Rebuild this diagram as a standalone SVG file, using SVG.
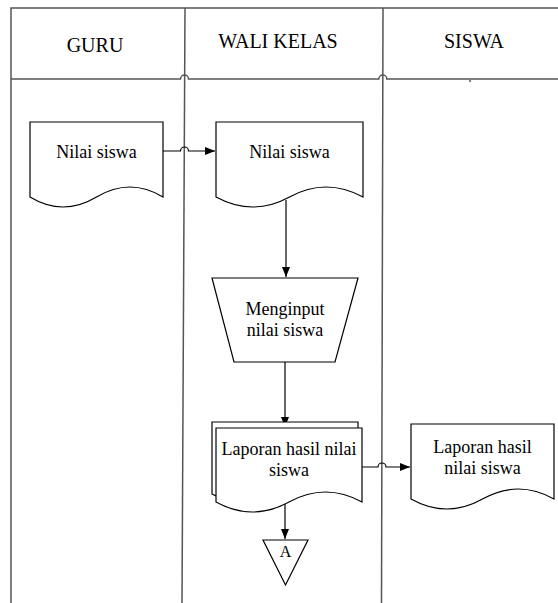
<svg xmlns="http://www.w3.org/2000/svg" width="558" height="603" viewBox="0 0 558 603">
<defs>
<marker id="ah" markerWidth="10" markerHeight="8" refX="10" refY="4" orient="auto" markerUnits="userSpaceOnUse">
<path d="M0,0 L10,4 L0,8 Z" fill="#000"/>
</marker>
</defs>
<style>
.t{font-family:"Liberation Serif","Times New Roman",serif;fill:#000;text-anchor:middle}
.h{font-size:20px}
.b{font-size:18px}
.s{fill:#fff;stroke:#000;stroke-width:1.2}
.ln{fill:none;stroke:#000;stroke-width:1.2}
.lane{fill:none;stroke:#555;stroke-width:1.5}
</style>
<rect width="558" height="603" fill="#fff"/>
<g id="lanes">
<path class="lane" d="M11,603 V8 H558"/>
<path class="lane" d="M185,8 L182,603"/>
<path class="lane" d="M383,8 L381.5,603"/>
<path class="lane" d="M11,79 H180.5 A4,4 0 0 1 188.5,79 H378.8 A4,4 0 0 1 386.8,79 H558"/>
<path d="M470,80 V82" stroke="#000" stroke-width="1"/>
<text class="t h" x="95" y="52">GURU</text>
<text class="t h" x="278" y="48">WALI KELAS</text>
<text class="t h" x="474" y="48">SISWA</text>
</g>
<g id="connectors">
<path class="ln" d="M163,151 H180.5 A4,4 0 0 1 188.5,151 H215" marker-end="url(#ah)"/>
<path class="ln" d="M286,200 V277" marker-end="url(#ah)"/>
<path class="ln" d="M285,362 V427" marker-end="url(#ah)"/>
<path class="ln" d="M362,467 H378 A4,4 0 0 1 386,467 H410" marker-end="url(#ah)"/>
<path class="ln" d="M285,504 V539" marker-end="url(#ah)"/>
</g>
<g id="doc-guru">
<path class="s" d="M30,122 H163 V197 Q130,177 96.5,197 T30,197 Z"/>
<text class="t b" x="96.5" y="158">Nilai siswa</text>
</g>
<g id="doc-wali">
<path class="s" d="M216,122 H363 V197 Q326,177 289.5,197 T216,197 Z"/>
<text class="t b" x="289.5" y="158">Nilai siswa</text>
</g>
<g id="input">
<path class="s" d="M212,278 H358 L335,362 H234 Z"/>
<text class="t b" x="285" y="315">Menginput</text>
<text class="t b" x="285" y="336">nilai siswa</text>
</g>
<g id="laporan-wali">
<path class="s" d="M212,422 H358 V494 Q321.5,474 285,494 T212,494 Z"/>
<path class="s" d="M216,428 H362 V502 Q325.5,482 289,502 T216,502 Z"/>
<text class="t b" x="289" y="455">Laporan hasil nilai</text>
<text class="t b" x="289" y="476">siswa</text>
</g>
<g id="connector-a">
<path class="s" d="M263,540 H308 L285.5,585 Z"/>
<text class="t" style="font-size:16px" x="285.5" y="557">A</text>
</g>
<g id="laporan-siswa">
<path class="s" d="M411,424 H554 V499 Q518.25,479 482.5,499 T411,499 Z"/>
<text class="t b" x="482.5" y="453">Laporan hasil</text>
<text class="t b" x="482.5" y="474">nilai siswa</text>
</g>
</svg>
